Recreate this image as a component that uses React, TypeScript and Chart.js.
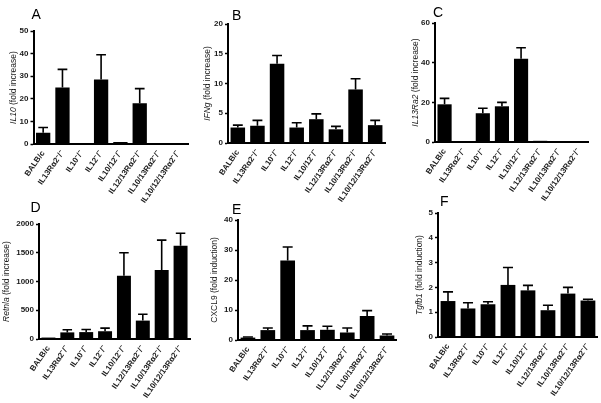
import React, { useEffect, useRef } from 'react';
import { Chart, registerables } from 'chart.js';

Chart.register(...registerables);

// Genotype categories (shared by all panels)
const categories = [
  'BALB/c',
  'IL13Rα2⁻/⁻',
  'IL10⁻/⁻',
  'IL12⁻/⁻',
  'IL10/12⁻/⁻',
  'IL12/13Rα2⁻/⁻',
  'IL10/13Rα2⁻/⁻',
  'IL10/12/13Rα2⁻/⁻',
];

// A: IL10 (fold increase)
const il10Mean = [5, 25, 0.4, 28.5, 0.9, 18, 0.4, 0.4];
const il10Err = [2.3, 8, 0, 11, 0, 6.5, 0, 0];
// B: IFNg (fold increase)
const ifngMean = [2.6, 2.9, 13.3, 2.6, 4.0, 2.3, 9.0, 3.0];
const ifngErr = [0.4, 0.9, 1.4, 0.8, 0.9, 0.5, 1.8, 0.8];
// C: IL13Ra2 (fold increase)
const il13ra2Mean = [19, 0, 14.5, 18, 42, 0.6, 0.5, 0];
const il13ra2Err = [3, 0, 2.5, 2, 5.5, 0, 0, 0];
// D: Retnla (fold increase)
const retnlaMean = [25, 115, 120, 135, 1100, 320, 1200, 1620];
const retnlaErr = [0, 45, 45, 55, 400, 110, 520, 220];
// E: CXCL9 (fold induction)
const cxcl9Mean = [0.8, 3.3, 26.5, 3.3, 3.4, 2.5, 8, 1.5];
const cxcl9Err = [0.2, 0.7, 4.5, 1.4, 1.2, 1.5, 1.8, 0.5];
// F: Tgfb1 (fold induction)
const tgfb1Mean = [1.45, 1.15, 1.32, 2.1, 1.88, 1.08, 1.75, 1.47];
const tgfb1Err = [0.37, 0.23, 0.1, 0.7, 0.2, 0.2, 0.25, 0.05];

// Axis maxima and steps
const yMax = [50, 20, 60, 2000, 40, 5];
const yStep = [10, 5, 20, 500, 10, 1];

const panelLetters = ['A', 'B', 'C', 'D', 'E', 'F'];
const geneNames = ['IL10', 'IFNg', 'IL13Ra2', 'Retnla', 'CXCL9', 'Tgfb1'];
const geneItalic = [true, true, true, true, false, true];
const titleUnits = [
  ' (fold increase)',
  ' (fold increase)',
  ' (fold increase)',
  ' (fold increase)',
  ' (fold induction)',
  ' (fold induction)',
];

const means = [il10Mean, ifngMean, il13ra2Mean, retnlaMean, cxcl9Mean, tgfb1Mean];
const errs = [il10Err, ifngErr, il13ra2Err, retnlaErr, cxcl9Err, tgfb1Err];

// Layout (page pixel coordinates)
const canvasRects = [
  [0, 0, 198, 210],
  [196, 0, 202, 210],
  [398, 0, 203, 210],
  [0, 190, 200, 213],
  [198, 190, 202, 213],
  [400, 190, 201, 213],
];
const plotAreas = [
  [33.5, 31, 188, 144],
  [228, 24, 385, 143],
  [435, 23, 588, 142],
  [39, 224, 190, 339],
  [238, 220, 398, 340],
  [438, 213, 598, 337],
];
const titleXs = [13.5, 208, 416, 6.5, 215, 420];
const letterPos = [
  [31.5, 5.5],
  [232, 6.5],
  [433, 4],
  [30.5, 198.5],
  [232, 200.5],
  [440, 192.5],
];

const FONT = '"Liberation Sans", Arial, Helvetica, sans-serif';

function Panel({ idx }: { idx: number }) {
  const ref = useRef<HTMLCanvasElement | null>(null);
  const [cx, cy, cw, ch] = canvasRects[idx];
  const [l, t, r, b] = plotAreas[idx];

  useEffect(() => {
    const canvas = ref.current;
    if (!canvas) return;
    const meanArr = means[idx];
    const errArr = errs[idx];

    const errorBars = {
      id: 'errorBars' + idx,
      afterDatasetsDraw(chart: any) {
        const ctx = chart.ctx;
        const meta = chart.getDatasetMeta(0);
        const ys = chart.scales.y;
        ctx.save();
        ctx.strokeStyle = '#000';
        ctx.lineWidth = 1.6;
        meta.data.forEach((bar: any, i: number) => {
          const e = errArr[i];
          if (!e) return;
          const yTop = ys.getPixelForValue(meanArr[i] + e);
          const x = bar.x;
          const hw = bar.width * 0.34;
          ctx.beginPath();
          ctx.moveTo(x, bar.y);
          ctx.lineTo(x, yTop);
          ctx.moveTo(x - hw, yTop);
          ctx.lineTo(x + hw, yTop);
          ctx.stroke();
        });
        ctx.restore();
      },
    };

    const yTitle = {
      id: 'yTitle' + idx,
      afterDraw(chart: any) {
        const ctx = chart.ctx;
        const area = chart.chartArea;
        const gene = geneNames[idx];
        const unit = titleUnits[idx];
        const fGene = (geneItalic[idx] ? 'italic ' : '') + '8.5px ' + FONT;
        const fUnit = '8.5px ' + FONT;
        ctx.save();
        ctx.fillStyle = '#1a1a1a';
        ctx.textBaseline = 'middle';
        ctx.textAlign = 'left';
        ctx.font = fGene;
        const w1 = ctx.measureText(gene).width;
        ctx.font = fUnit;
        const w2 = ctx.measureText(unit).width;
        ctx.translate(titleXs[idx] - cx, (area.top + area.bottom) / 2);
        ctx.rotate(-Math.PI / 2);
        const start = -(w1 + w2) / 2;
        ctx.font = fGene;
        ctx.fillText(gene, start, 0);
        ctx.font = fUnit;
        ctx.fillText(unit, start + w1, 0);
        ctx.restore();
      },
    };

    const chart = new Chart(canvas, {
      type: 'bar',
      data: {
        labels: categories,
        datasets: [
          {
            data: meanArr,
            backgroundColor: '#000',
            borderWidth: 0,
            barPercentage: 0.74,
            categoryPercentage: 1,
          },
        ],
      },
      options: {
        animation: false,
        responsive: false,
        maintainAspectRatio: false,
        devicePixelRatio: 1,
        layout: {
          padding: { top: t - cy, right: cx + cw - r, bottom: 0, left: 0 },
        },
        plugins: {
          legend: { display: false },
          tooltip: { enabled: false },
        },
        scales: {
          x: {
            type: 'category',
            grid: { display: false, drawTicks: false },
            border: { display: true, color: '#000', width: 2 },
            ticks: {
              autoSkip: false,
              minRotation: 55,
              maxRotation: 55,
              padding: 5,
              color: '#1a1a1a',
              font: { family: FONT, size: 8, weight: 'bold' },
            },
            afterFit(scale: any) {
              scale.height = cy + ch - b;
            },
          },
          y: {
            min: 0,
            max: yMax[idx],
            grid: {
              display: true,
              drawOnChartArea: false,
              drawTicks: true,
              tickLength: 3,
              color: '#000',
              tickWidth: 1.5,
            },
            border: { display: true, color: '#000', width: 2 },
            ticks: {
              stepSize: yStep[idx],
              padding: 2,
              color: '#1a1a1a',
              font: { family: FONT, size: 8, weight: 'bold' },
              callback: (v: any) => String(v),
            },
            afterFit(scale: any) {
              scale.width = l - cx;
            },
          },
        },
      },
      plugins: [errorBars, yTitle],
    } as any);
    return () => chart.destroy();
  }, [idx]);

  return (
    <canvas
      ref={ref}
      width={cw}
      height={ch}
      style={{
        position: 'absolute',
        left: cx,
        top: cy,
        width: cw,
        height: ch,
        display: 'block',
      }}
    />
  );
}

export default function App() {
  return (
    <div
      style={{
        position: 'absolute',
        left: 0,
        top: 0,
        width: 601,
        height: 403,
        background: '#fff',
        overflow: 'hidden',
      }}
    >
      {panelLetters.map((_, i) => (
        <Panel key={i} idx={i} />
      ))}
      {panelLetters.map((letter, i) => (
        <div
          key={'l' + i}
          style={{
            position: 'absolute',
            left: letterPos[i][0],
            top: letterPos[i][1],
            font: '14px ' + FONT,
            lineHeight: '16px',
            color: '#000',
          }}
        >
          {letter}
        </div>
      ))}
    </div>
  );
}
